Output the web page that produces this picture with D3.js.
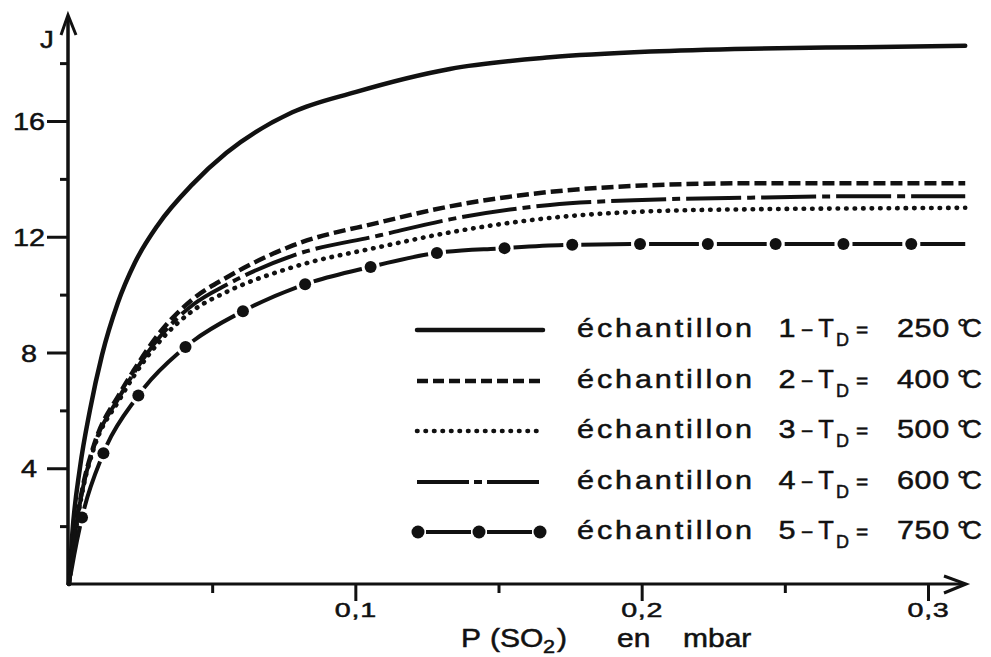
<!DOCTYPE html>
<html>
<head>
<meta charset="utf-8">
<script src="https://cdn.jsdelivr.net/npm/d3@7"></script>
<style>
  html, body { margin: 0; padding: 0; background: #fff; }
  svg { display: block; }
  text { font-family: "Liberation Sans", Arial, Helvetica, sans-serif; fill: #111; stroke: #111; stroke-width: 0.5px; }
</style>
</head>
<body>
<svg id="chart" width="991" height="657"></svg>
<script>
// ---------- data ----------
const xTicks = [0.1, 0.2, 0.3];
const xMinorTicks = [0.05, 0.15, 0.25];
const yTicks = [4, 8, 12, 16];
const yMinorTicks = [2, 6, 10, 14, 18];

const sampleNumbers = [1, 2, 3, 4, 5];
const desorptionTemps = [250, 400, 500, 600, 750];

// échantillon 1 (solid)
const P_s1 = [0, 0.0012, 0.0038, 0.0073, 0.0115, 0.017, 0.023, 0.031, 0.043, 0.055, 0.078, 0.1, 0.133, 0.168, 0.203, 0.238, 0.277, 0.313];
const J_s1 = [0, 1.8, 4.0, 6.0, 7.9, 9.7, 11.1, 12.4, 13.8, 14.9, 16.3, 17.0, 17.8, 18.2, 18.4, 18.5, 18.55, 18.6];

// échantillons 2, 3, 4 (same abscissae)
const P_s234 = [0, 0.002, 0.0049, 0.0084, 0.0178, 0.0224, 0.0318, 0.0433, 0.0552, 0.0782, 0.1086, 0.133, 0.168, 0.203, 0.238, 0.277, 0.313];
const J_s2 = [0, 1.7, 3.4, 4.7, 6.6, 7.35, 8.7, 9.85, 10.6, 11.7, 12.5, 13.05, 13.55, 13.78, 13.85, 13.85, 13.85];
const J_s3 = [0, 1.6, 3.3, 4.6, 6.4, 7.15, 8.4, 9.45, 10.1, 10.95, 11.65, 12.15, 12.65, 12.88, 12.95, 12.98, 13.0];
const J_s4 = [0, 1.65, 3.35, 4.65, 6.5, 7.25, 8.55, 9.65, 10.35, 11.35, 12.05, 12.6, 13.1, 13.28, 13.35, 13.4, 13.4];

// échantillon 5 (dash + dots)
const P_s5 = [0, 0.0018, 0.0045, 0.0119, 0.0238, 0.0402, 0.0608, 0.0817, 0.105, 0.1285, 0.151, 0.175, 0.21, 0.25, 0.29, 0.313];
const J_s5 = [0, 1.0, 2.28, 4.49, 6.46, 8.15, 9.43, 10.33, 10.95, 11.44, 11.6, 11.72, 11.75, 11.75, 11.75, 11.75];

// ---------- layout ----------
const SX = 1.2; // horizontal stretch of the lettering
const svg = d3.select("#chart");
const x = d3.scaleLinear().domain([0, 0.3]).range([69, 928]);
const y = d3.scaleLinear().domain([0, 16]).range([584, 121]);
const ink = "#111";

function label(parent, px, py, str, size, opts = {}) {
  const sx = opts.sx || SX;
  const g = parent.append("g").attr("transform", `translate(${px},${py}) scale(${sx},1)`);
  const t = g.append("text")
    .style("font-size", size + "px")
    .attr("text-anchor", opts.anchor || "start")
    .attr("letter-spacing", opts.ls || 0)
    .text(str);
  return t;
}

// ---------- axes ----------
const axisG = svg.append("g");
axisG.append("line").attr("x1", x(0) - 1).attr("x2", x(0) - 1).attr("y1", y(0) + 1).attr("y2", 16)
  .attr("stroke", ink).attr("stroke-width", 3.5);
axisG.append("polyline").attr("points", `${x(0)-8},35 ${x(0)-1},15 ${x(0)+7},35`)
  .attr("fill", "none").attr("stroke", ink).attr("stroke-width", 3);
axisG.append("line").attr("x1", x(0) - 2).attr("x2", 964).attr("y1", y(0)).attr("y2", y(0))
  .attr("stroke", ink).attr("stroke-width", 3);
axisG.append("polyline").attr("points", `944,576 966,${y(0)} 944,593`)
  .attr("fill", "none").attr("stroke", ink).attr("stroke-width", 3);

// y ticks
const yAx = svg.append("g").attr("transform", `translate(${x(0) - 1},0)`)
  .call(d3.axisLeft(y).tickValues(yTicks).tickSize(21).tickFormat(d3.format("d")));
yAx.select(".domain").remove();
yAx.selectAll(".tick line").attr("stroke", ink).attr("stroke-width", 3);
yAx.selectAll(".tick text")
  .attr("x", 0).attr("dy", "0.36em")
  .attr("transform", `translate(-39,0) scale(${SX},1)`)
  .attr("text-anchor", "middle")
  .attr("font-family", null).attr("fill", ink)
  .style("font-size", "24px");
const yMin = svg.append("g").attr("transform", `translate(${x(0) - 1},0)`)
  .call(d3.axisLeft(y).tickValues(yMinorTicks).tickSize(8).tickFormat(""));
yMin.select(".domain").remove();
yMin.selectAll(".tick line").attr("stroke", ink).attr("stroke-width", 3);

// x ticks
const xAx = svg.append("g").attr("transform", `translate(0,${y(0)})`)
  .call(d3.axisBottom(x).tickValues(xTicks).tickSize(17).tickPadding(1)
    .tickFormat(d => d3.format(".1f")(d).replace(".", ",")));
xAx.select(".domain").remove();
xAx.selectAll(".tick line").attr("stroke", ink).attr("stroke-width", 3);
xAx.selectAll(".tick text")
  .attr("transform", "scale(1.4,1)")
  .attr("font-family", null).attr("fill", ink)
  .attr("letter-spacing", 0.5)
  .style("font-size", "20.5px");
const xMin = svg.append("g").attr("transform", `translate(0,${y(0)})`)
  .call(d3.axisBottom(x).tickValues(xMinorTicks).tickSize(9).tickFormat(""));
xMin.select(".domain").remove();
xMin.selectAll(".tick line").attr("stroke", ink).attr("stroke-width", 3);

// axis titles
label(svg, 40, 48, "J", 23);
label(svg, 461, 647, "P", 25);
label(svg, 490, 647, "(SO", 25);
label(svg, 543, 653, "2", 18);
label(svg, 557, 647, ")", 25);
label(svg, 617, 647, "en", 25);
label(svg, 683, 647, "mbar", 25);

// ---------- curves ----------
const line = d3.line().x(d => x(d[0])).y(d => y(d[1])).curve(d3.curveMonotoneX);
const zipP = (P, J) => P.map((p, i) => [p, J[i]]);

const styles = [
  { dash: null, width: 4.5, cap: "round" },
  { dash: "12 5", width: 4.5, cap: "butt" },
  { dash: "0.5 8", width: 4.6, cap: "round" },
  { dash: "55 6 8 6", width: 4, cap: "butt" },
  { dash: "49.8 18", offset: -9, width: 4, cap: "butt", dots: 67.8 }
];
const series = [
  zipP(P_s1, J_s1),
  zipP(P_s234, J_s2),
  zipP(P_s234, J_s3),
  zipP(P_s234, J_s4),
  zipP(P_s5, J_s5)
];

const curveG = svg.append("g");
series.forEach((data, i) => {
  const st = styles[i];
  const path = curveG.append("path")
    .attr("d", line(data))
    .attr("fill", "none")
    .attr("stroke", ink)
    .attr("stroke-width", st.width)
    .attr("stroke-linecap", st.cap)
    .attr("stroke-linejoin", "round");
  if (st.dash) path.attr("stroke-dasharray", st.dash);
  if (st.offset) path.attr("stroke-dashoffset", st.offset);
  if (st.dots) {
    const node = path.node();
    const L = node.getTotalLength();
    const marks = d3.range(st.dots, L - 20, st.dots).map(l => node.getPointAtLength(l));
    curveG.selectAll(null).data(marks).enter().append("circle")
      .attr("cx", d => d.x).attr("cy", d => d.y).attr("r", 6).attr("fill", ink);
  }
});

// ---------- legend ----------
const legendRows = [330, 381, 431, 482, 532];
const legX0 = 417, legX1 = 543;
const legG = svg.append("g");
sampleNumbers.forEach((n, i) => {
  const ly = legendRows[i];
  const st = styles[i];
  const l = legG.append("line")
    .attr("x1", legX0).attr("x2", legX1).attr("y1", ly).attr("y2", ly)
    .attr("stroke", ink).attr("stroke-width", st.width).attr("stroke-linecap", st.cap);
  if (i === 1) l.attr("stroke-dasharray", "11 5");
  else if (i === 3) l.attr("stroke-dasharray", "52 5 8 5");
  else if (st.dash && !st.dots) l.attr("stroke-dasharray", st.dash);
  if (st.dots) {
    l.attr("x1", 418).attr("x2", 540).attr("stroke-dasharray", "45 16").attr("stroke-dashoffset", -8);
    legG.selectAll(null).data([418, 479, 540]).enter().append("circle")
      .attr("cx", d => d).attr("cy", ly).attr("r", 6.5).attr("fill", ink);
  }
  const by = ly + 7;
  label(legG, 577, by, "échantillon", 25.5, { ls: 2.4 });
  label(legG, 787, by, String(n), 25.5, { anchor: "middle" });
  label(legG, 807, by, "−", 21, { anchor: "middle", sx: 1 });
  label(legG, 826, by, "T", 25.5, { anchor: "middle", sx: 1 });
  label(legG, 836, by + 9, "D", 18, { sx: 1 });
  label(legG, 862, by, "=", 21, { anchor: "middle", sx: 1 });
  label(legG, 897, by, String(desorptionTemps[i]) + "\u2009", 25.5, { ls: 0.5 });
  label(legG, 957, by, "°C", 25.5, { sx: 1.05, ls: -5 });
});
</script>
</body>
</html>
